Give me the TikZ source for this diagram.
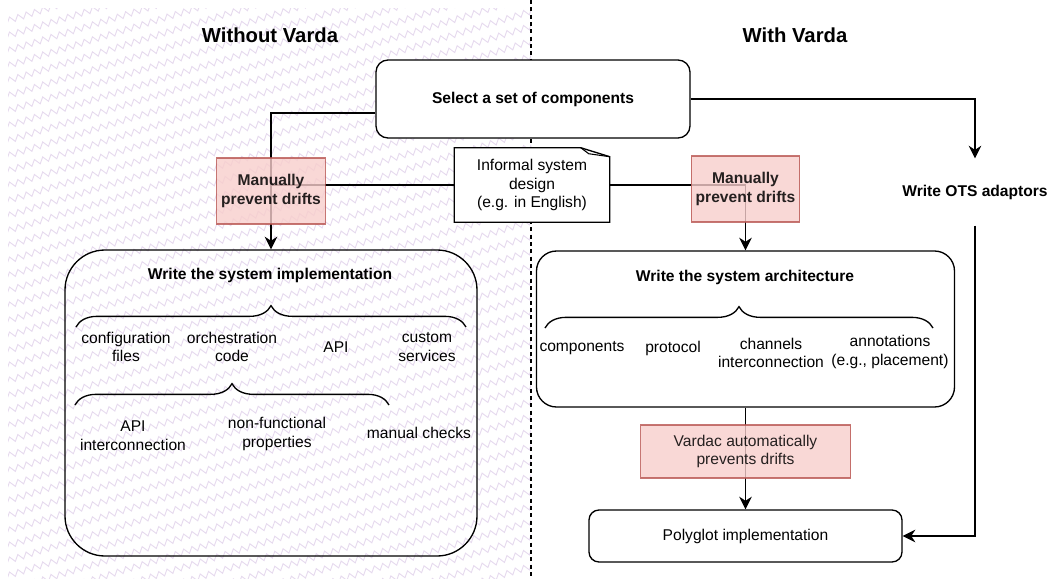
\documentclass[tikz,border=0pt]{standalone}
\usepackage{fontspec}
\setmainfont{Liberation Sans}
\usetikzlibrary{arrows.meta,decorations.pathreplacing,decorations.pathmorphing}

\definecolor{driftfill}{RGB}{248,206,204}
\definecolor{driftline}{RGB}{184,84,80}
\definecolor{zigcol}{RGB}{230,218,238}

\newcommand{\bodyfont}{\fontsize{11.7}{14}\selectfont}
\newcommand{\headfont}{\fontsize{15.2}{18}\selectfont\bfseries}

\pgfdeclarelayer{pat}
\pgfdeclarelayer{wires}
\pgfsetlayers{pat,wires,main}

\tikzset{
  box/.style={draw, fill=white, line width=1pt, rounded corners=9pt, align=center},
  bold/.style={font=\bodyfont\bfseries, align=center},
  label/.style={align=center, inner sep=1pt},
  drift/.style={draw=driftline, fill=driftfill, line width=0.9pt, opacity=0.8, text opacity=0.85, align=center},
  wire/.style={line width=1pt},
  zig/.style={zigcol, line width=0.7pt, decorate, decoration={zigzag, segment length=6.5pt, amplitude=2.2pt}},
  curly/.style={line width=1pt, decorate, decoration={brace, amplitude=16pt}}
}

\begin{document}
\begin{tikzpicture}[x=0.75pt, y=-0.75pt, font=\bodyfont, >={Stealth[length=9.5pt, width=9.5pt]}]
\useasboundingbox (0,0) rectangle (1051,579);

% titles
\node[font=\headfont] (woVarda) at (270,35) {Without Varda};
\node[font=\headfont] (wVarda) at (795,35) {With Varda};

% top
\node[box, bold, minimum width=235.5pt, minimum height=58.5pt] (select) at (533,99) {Select a set of components};
\node[drift, bold, minimum width=77pt, minimum height=49.5pt] (drift1) at (271,191) {Manually\\prevent drifts};
\node[drift, bold, minimum width=78.5pt, minimum height=49.5pt] (drift2) at (745.5,189) {Manually\\prevent drifts};
\node[align=center, fill=white, minimum width=116.25pt, minimum height=55.5pt] (informal) at (532,185) {Informal system\\design\\(e.g. in English)};
\draw[line width=1pt] (informal.south west) -- (informal.north west) -- ([xshift=-21.75pt]informal.north east)
  -- ([yshift=-6.75pt]informal.north east) -- (informal.south east) -- cycle;
\draw[line width=0.8pt] ([xshift=-21.75pt]informal.north east) -- ([xshift=-15.75pt,yshift=-4.5pt]informal.north east)
  -- ([yshift=-6.75pt]informal.north east);
\node[bold, minimum width=108pt, minimum height=50pt, inner sep=0pt] (ots) at (975,192) {Write OTS adaptors};

% left: implementation
\node[draw, line width=1pt, rounded corners=30pt, minimum width=309pt, minimum height=229.5pt] (impl) at (271,403) {};
\node[bold] (implTitle) at (270,275) {Write the system implementation};
\node[label] (cfg) at (126,347) {configuration\\files};
\node[label] (orch) at (232,347) {orchestration\\code};
\node[label] (api) at (336,347) {API};
\node[label] (custom) at (427,347) {custom\\services};
\node[label] (apiInt) at (133,436) {API\\interconnection};
\node[label] (nonFunc) at (277,434) {non-functional\\properties};
\node[label] (manual) at (419,433) {manual checks};
\coordinate (b1l) at (76,327);
\coordinate (b1r) at (466,327);
\coordinate (b2l) at (75,405);
\coordinate (b2r) at (389,405);
\draw[curly] (b1l) -- (b1r);
\draw[curly] (b2l) -- (b2r);

% right: architecture
\node[box, rounded corners=15pt, minimum width=313.5pt, minimum height=117pt] (arch) at (745.5,329) {};
\node[bold] (archTitle) at (745,277) {Write the system architecture};
\node[label] (comp) at (582,348) {components};
\node[label] (proto) at (673,348) {protocol};
\node[label] (chan) at (771,353) {channels\\interconnection};
\node[label] (annot) at (890,352) {annotations\\(e.g., placement)};
\coordinate (b3l) at (545,328);
\coordinate (b3r) at (933,328);
\draw[curly] (b3l) -- (b3r);

\node[drift, minimum width=157.5pt, minimum height=39.75pt] (vardac) at (745.5,451.5) {Vardac automatically\\prevents drifts};
\node[box, rounded corners=7.5pt, minimum width=234.75pt, minimum height=39pt] (poly) at (745.5,536) {Polyglot implementation};

% divider
\coordinate (divTop) at (531,0);
\coordinate (divBot) at (531,579);

\begin{pgfonlayer}{pat}
\begin{scope}
\clip (8,8) rectangle (531,579);
\foreach \i in {0,...,50}
  \draw[zig] (0,8+15*\i) -- ++(545,-166);
\end{scope}
\end{pgfonlayer}

\begin{pgfonlayer}{wires}
\draw[line width=0.9pt, dash pattern=on 3pt off 2.5pt] (divTop) -- (divBot);
\draw[wire, ->] ([yshift=-10.5pt]select.west) -| (impl.north);
\draw[wire] (informal.west) -- (informal.west -| impl.north);
\draw[wire, ->] (informal.east) -| (arch.north);
\draw[wire, ->] (select.east) -| (ots.north);
\draw[wire, ->] (ots.south) |- (poly.east);
\draw[wire, ->] (arch.south) -- (poly.north);
\end{pgfonlayer}
\end{tikzpicture}
\end{document}
